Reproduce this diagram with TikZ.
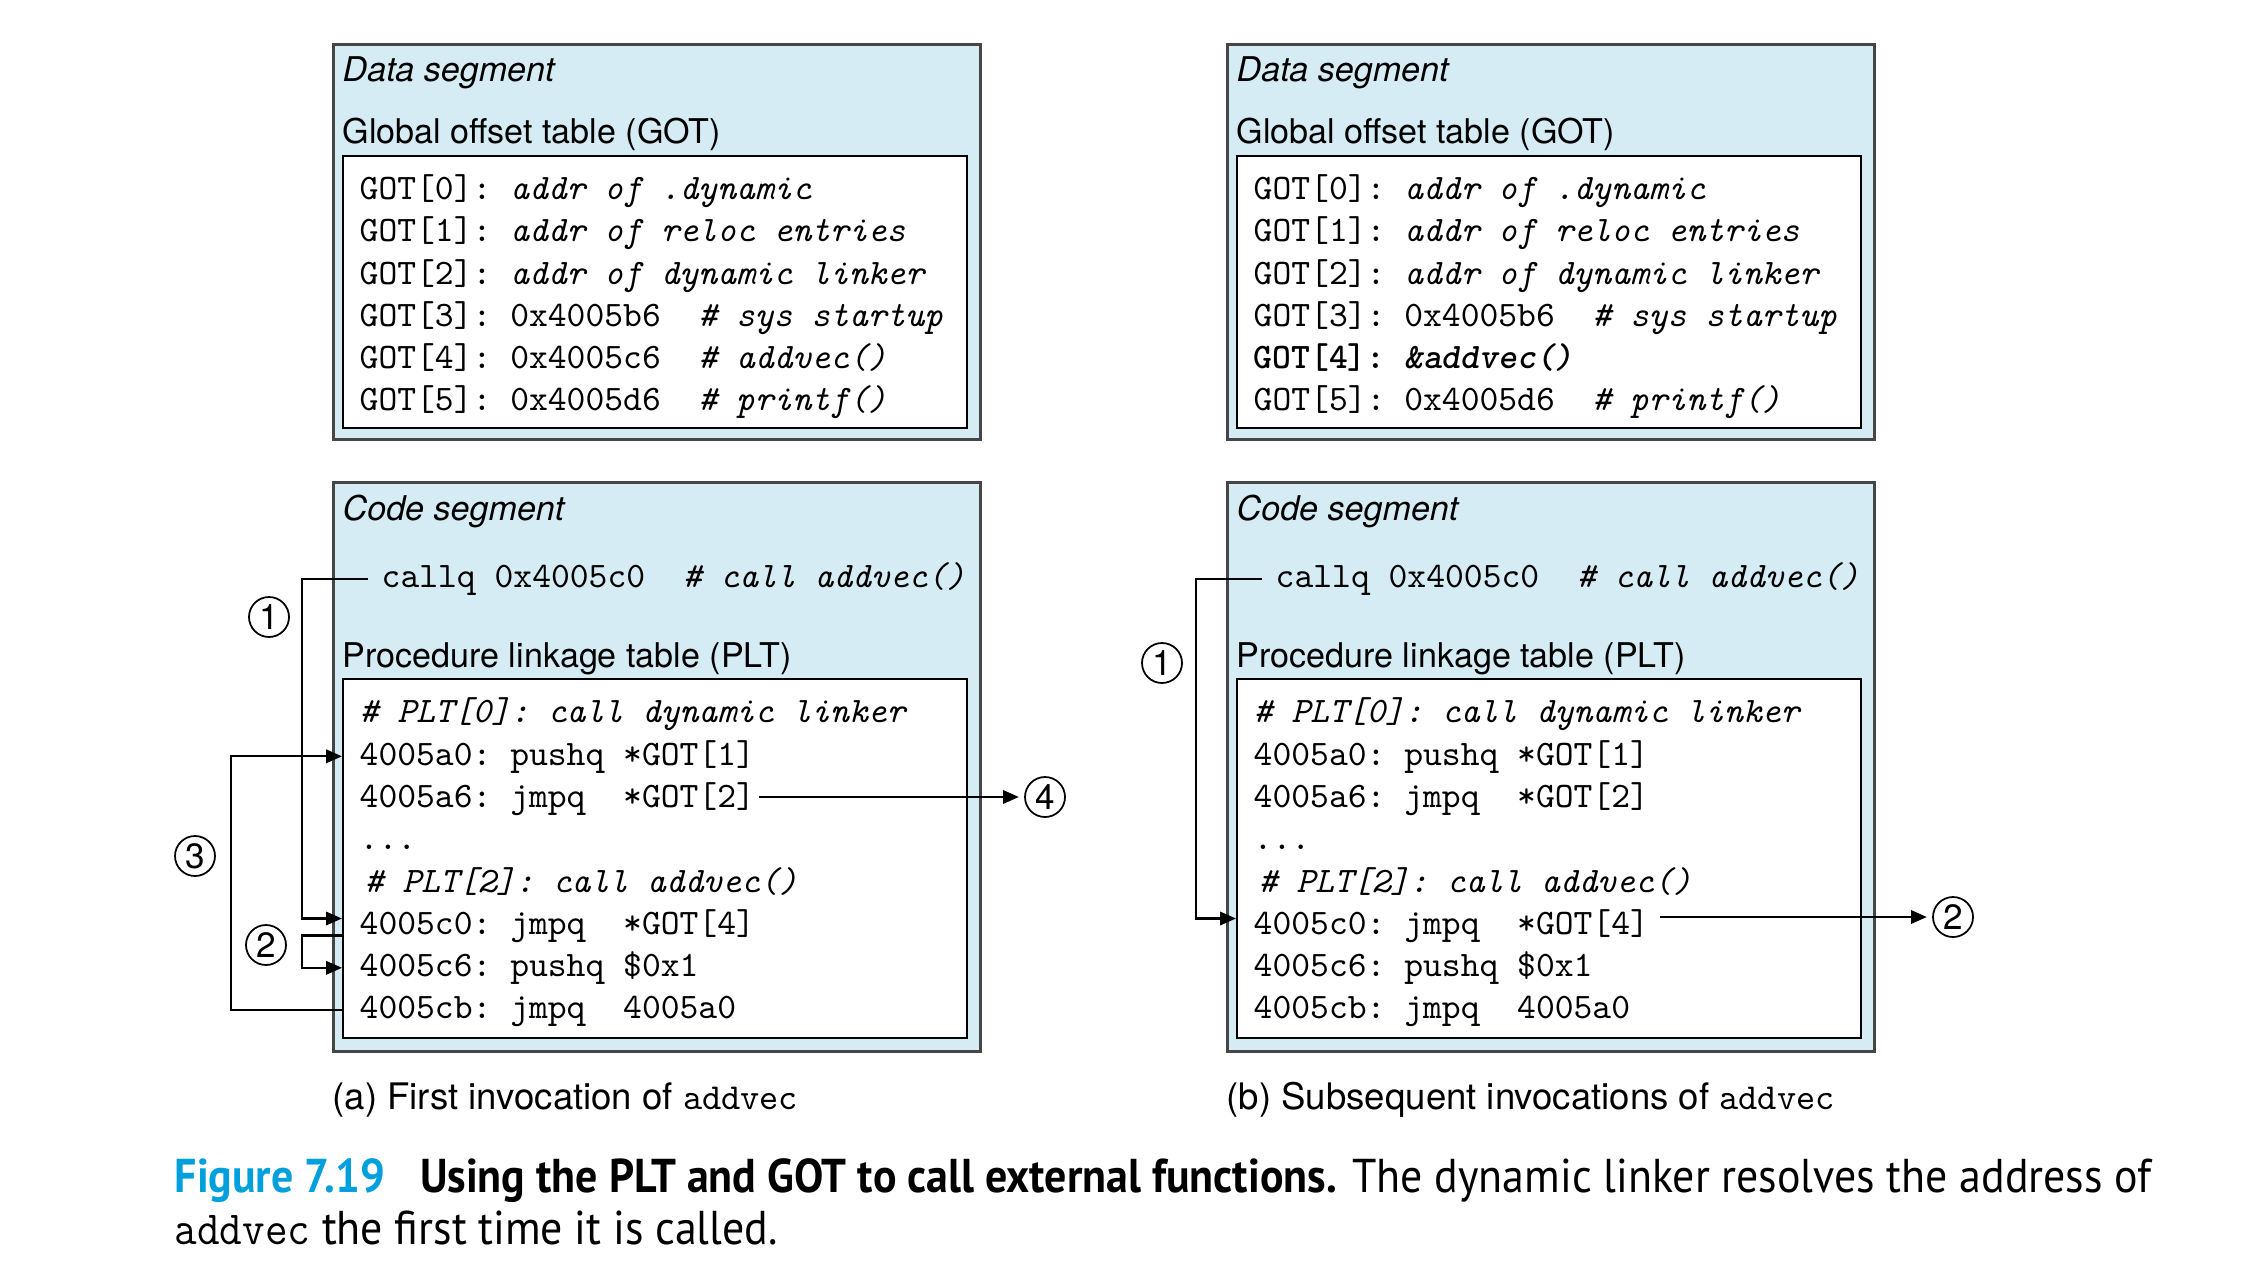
\documentclass[tikz,border=0pt]{standalone}
\usepackage{fontspec}
\usepackage{graphicx}
\setsansfont{TeX Gyre Heros}
\newfontfamily\capfont{PT Sans}
\usetikzlibrary{arrows.meta,positioning,calc}

\definecolor{segblue}{RGB}{214,236,244}
\definecolor{segedge}{RGB}{70,70,70}
\definecolor{figcyan}{RGB}{0,160,220}

\tikzset{
  segbox/.style={draw=segedge, fill=segblue, line width=0.8pt, inner sep=0, anchor=north west},
  tabbox/.style={draw=black, fill=white, line width=0.6pt, inner sep=0, anchor=north west},
  lbl/.style={font=\sffamily\fontsize{9.7}{12}\selectfont, inner sep=0, anchor=west, text height=7.5pt, text depth=2pt, yshift=-0.03cm},
  seglbl/.style={lbl, font=\sffamily\itshape\fontsize{9.7}{12}\selectfont},
  code/.style={font=\ttfamily\fontsize{10.2}{12}\selectfont, inner sep=0, anchor=west, text height=7pt, text depth=2pt, yshift=-0.03cm},
  stepnum/.style={circle, draw, line width=0.5pt, minimum size=0.4cm, inner sep=0, font=\sffamily\fontsize{10}{12}\selectfont},
  flow/.style={line width=0.6pt, -{Triangle[length=4.5pt,width=3.8pt]}},
  figcap/.style={font=\capfont\fontsize{13.5}{16}\selectfont, inner sep=0, anchor=base west},
}

\begin{document}
\begin{tikzpicture}
\useasboundingbox (0,0) rectangle (22.52,-12.76);

% ---- (a) first invocation ----
\node[segbox, minimum width=6.47cm, minimum height=3.95cm] (a-data) at (3.32,-0.43) {};
\node[tabbox, minimum width=6.24cm, minimum height=2.72cm] (a-got) at (3.42,-1.55) {};
\node[seglbl] (a-dlbl) at (3.42,-0.69) {Data segment};
\node[lbl] (a-glbl) at (3.42,-1.31) {Global offset table (GOT)};
\foreach \txt [count=\i from 0] in {
  GOT[0]:~\textit{addr~of~.dynamic},
  GOT[1]:~\textit{addr~of~reloc~entries},
  GOT[2]:~\textit{addr~of~dynamic~linker},
  GOT[3]:~0x4005b6~~\textit{\#~sys~startup},
  GOT[4]:~0x4005c6~~\textit{\#~addvec()},
  GOT[5]:~0x4005d6~~\textit{\#~printf()}}
  \node[code] (a-g\i) at (3.59,{-1.88-0.422*\i}) {\txt};

\node[segbox, minimum width=6.47cm, minimum height=5.69cm] (a-code) at (3.32,-4.81) {};
\node[tabbox, minimum width=6.24cm, minimum height=3.59cm] (a-plt) at (3.42,-6.78) {};
\node[seglbl] (a-clbl) at (3.42,-5.08) {Code segment};
\node[code] (a-callq) at (3.81,-5.76) {callq~0x4005c0~~\textit{\#~call~addvec()}};
\node[lbl] (a-plbl) at (3.42,-6.55) {Procedure linkage table (PLT)};
\foreach \txt [count=\i from 0] in {
  \textit{\#~PLT[0]:~call~dynamic~linker},
  4005a0:~pushq~*GOT[1],
  4005a6:~jmpq~~*GOT[2],
  {.}{.}{.},
  \hspace{0.05cm}\textit{\#~PLT[2]:~call~addvec()},
  4005c0:~jmpq~~*GOT[4],
  4005c6:~pushq~\$0x1,
  4005cb:~jmpq~~4005a0}
  \node[code] (a-p\i) at (3.59,{-7.11-0.423*\i}) {\txt};

\node[stepnum] (a-s1) at (2.69,-6.17) {1};
\node[stepnum] (a-s2) at (2.66,-9.45) {2};
\node[stepnum] (a-s3) at (1.95,-8.56) {3};
\node[stepnum] (a-s4) at (10.45,-7.97) {4};

\draw[flow] ([xshift=-0.13cm]a-callq.west) -- ++(-0.66,0) |- ([yshift=0.07cm]a-plt.west |- a-p5);
\draw[flow] ([yshift=-0.10cm]a-plt.west |- a-p5) -- ++(-0.40,0) |- (a-plt.west |- a-p6);
\draw[flow] (a-plt.west |- a-p7) -- ++(-1.11,0) |- (a-plt.west |- a-p1);
\draw[flow, shorten >=1.5pt] ([xshift=0.03cm]a-p2.east |- a-s4) -- (a-s4);

\node[lbl, font=\sffamily\fontsize{10.4}{12}\selectfont] (a-cap) at (3.32,-10.97) {(a) First invocation of \texttt{addvec}};

% ---- (b) subsequent invocations ----
\node[segbox, minimum width=6.47cm, minimum height=3.95cm] (b-data) at (12.26,-0.43) {};
\node[tabbox, minimum width=6.24cm, minimum height=2.72cm] (b-got) at (12.36,-1.55) {};
\node[seglbl] (b-dlbl) at (12.36,-0.69) {Data segment};
\node[lbl] (b-glbl) at (12.36,-1.31) {Global offset table (GOT)};
\foreach \txt [count=\i from 0] in {
  GOT[0]:~\textit{addr~of~.dynamic},
  GOT[1]:~\textit{addr~of~reloc~entries},
  GOT[2]:~\textit{addr~of~dynamic~linker},
  GOT[3]:~0x4005b6~~\textit{\#~sys~startup},
  \textbf{GOT[4]:~\textit{\&addvec()}},
  GOT[5]:~0x4005d6~~\textit{\#~printf()}}
  \node[code] (b-g\i) at (12.53,{-1.88-0.422*\i}) {\txt};

\node[segbox, minimum width=6.47cm, minimum height=5.69cm] (b-code) at (12.26,-4.81) {};
\node[tabbox, minimum width=6.24cm, minimum height=3.59cm] (b-plt) at (12.36,-6.78) {};
\node[seglbl] (b-clbl) at (12.36,-5.08) {Code segment};
\node[code] (b-callq) at (12.75,-5.76) {callq~0x4005c0~~\textit{\#~call~addvec()}};
\node[lbl] (b-plbl) at (12.36,-6.55) {Procedure linkage table (PLT)};
\foreach \txt [count=\i from 0] in {
  \textit{\#~PLT[0]:~call~dynamic~linker},
  4005a0:~pushq~*GOT[1],
  4005a6:~jmpq~~*GOT[2],
  {.}{.}{.},
  \hspace{0.05cm}\textit{\#~PLT[2]:~call~addvec()},
  4005c0:~jmpq~~*GOT[4],
  4005c6:~pushq~\$0x1,
  4005cb:~jmpq~~4005a0}
  \node[code] (b-p\i) at (12.53,{-7.11-0.423*\i}) {\txt};

\node[stepnum] (b-s1) at (11.62,-6.63) {1};
\node[stepnum] (b-s2) at (19.53,-9.17) {2};

\draw[flow] ([xshift=-0.13cm]b-callq.west) -- ++(-0.66,0) |- ([yshift=0.07cm]b-plt.west |- b-p5);
\draw[flow, shorten >=1.5pt] ([xshift=0.1cm]b-p5.east |- b-s2) -- (b-s2);

\node[lbl, font=\sffamily\fontsize{10.4}{12}\selectfont] (b-cap) at (12.26,-10.97) {(b) Subsequent invocations of \texttt{addvec}};

% ---- figure caption ----
\node[figcap] (fig-l1) at (1.74,-11.92) {\scalebox{0.925}[1]{{\color{figcyan}\bfseries Figure 7.19}\hspace{0.8em}{\bfseries Using the PLT and GOT to call external functions.} The dynamic linker resolves the address of}};
\node[figcap] (fig-l2) at (1.74,-12.44) {\scalebox{0.925}[1]{\texttt{addvec} the first time it is called.}};
\end{tikzpicture}
\end{document}
